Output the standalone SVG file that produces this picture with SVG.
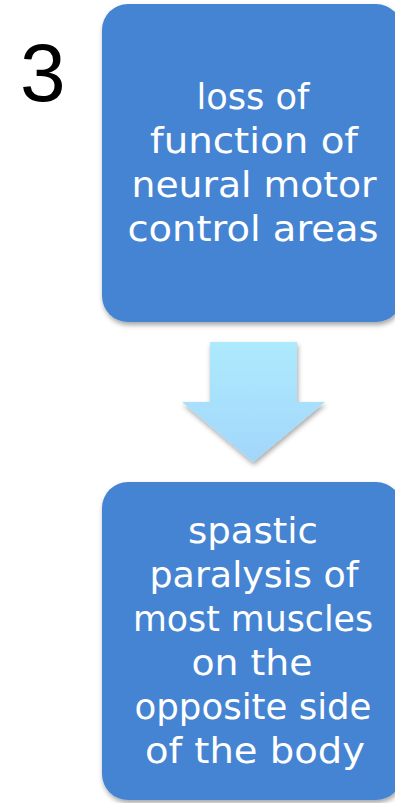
<svg xmlns="http://www.w3.org/2000/svg" width="395" height="803" viewBox="0 0 395 803">
<defs>
<filter id="sh" x="-10%" y="-10%" width="130%" height="130%">
<feDropShadow dx="1" dy="3" stdDeviation="2.5" flood-color="#000" flood-opacity="0.35"/>
</filter>
<linearGradient id="ag" x1="0" y1="0" x2="0" y2="1">
<stop offset="0" stop-color="#ADEAFD"/>
<stop offset="1" stop-color="#A2D6FB"/>
</linearGradient>
</defs>
<style>
.box{fill:#4584D3;filter:url(#sh)}
.t{font-family:"DejaVu Sans","Liberation Sans",sans-serif;font-size:36px;fill:#fff;text-anchor:middle}
.num{font-family:"Liberation Sans",Arial,sans-serif;font-size:82px;fill:#000}
</style>
<text class="num" x="20" y="101">3</text>
<g id="node1">
<rect class="box" x="102" y="4" width="300" height="318" rx="26"/>
<text class="t" x="253" y="109" textLength="113" lengthAdjust="spacingAndGlyphs">loss of</text>
<text class="t" x="254" y="153" textLength="208" lengthAdjust="spacingAndGlyphs">function of</text>
<text class="t" x="254" y="197" textLength="245" lengthAdjust="spacingAndGlyphs">neural motor</text>
<text class="t" x="253" y="241" textLength="251" lengthAdjust="spacingAndGlyphs">control areas</text>
</g>
<g id="connectors">
<polygon points="210,342 297,342 297,402 325,402 253,462 182,402 210,402" fill="url(#ag)" filter="url(#sh)"/>
</g>
<g id="node2">
<rect class="box" x="102" y="482" width="300" height="318" rx="26"/>
<text class="t" x="253" y="543" textLength="130" lengthAdjust="spacingAndGlyphs">spastic</text>
<text class="t" x="254" y="587" textLength="209" lengthAdjust="spacingAndGlyphs">paralysis of</text>
<text class="t" x="253" y="631" textLength="240" lengthAdjust="spacingAndGlyphs">most muscles</text>
<text class="t" x="252" y="675" textLength="121" lengthAdjust="spacingAndGlyphs">on the</text>
<text class="t" x="253" y="719" textLength="237" lengthAdjust="spacingAndGlyphs">opposite side</text>
<text class="t" x="255" y="763" textLength="220" lengthAdjust="spacingAndGlyphs">of the body</text>
</g>
</svg>
